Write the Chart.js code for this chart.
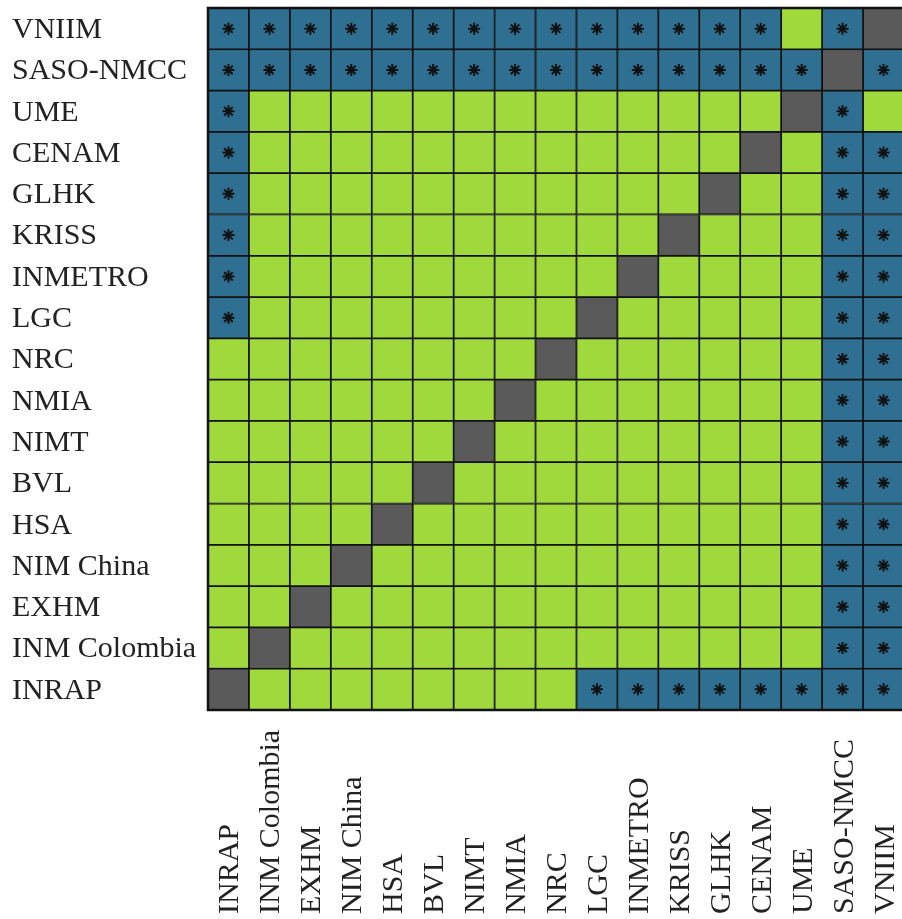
<!DOCTYPE html>
<html lang="en">
<head>
    <meta charset="UTF-8">
    <title>Significance matrix</title>
    <script src="https://cdn.jsdelivr.net/npm/chart.js"></script>
    <style>
        html, body { margin: 0; padding: 0; background: #fff; overflow: hidden; }
    </style>
</head>
<body>
    <canvas id="matrix" width="912" height="919"></canvas>

    <script>
        // Labels, top row first / left column first
        const rowLabels = ['VNIIM', 'SASO-NMCC', 'UME', 'CENAM', 'GLHK', 'KRISS', 'INMETRO', 'LGC',
            'NRC', 'NMIA', 'NIMT', 'BVL', 'HSA', 'NIM China', 'EXHM', 'INM Colombia', 'INRAP'];
        const colLabels = ['INRAP', 'INM Colombia', 'EXHM', 'NIM China', 'HSA', 'BVL', 'NIMT', 'NMIA',
            'NRC', 'LGC', 'INMETRO', 'KRISS', 'GLHK', 'CENAM', 'UME', 'SASO-NMCC', 'VNIIM'];

        // 1 = significant difference (*), 0 = not significant, 2 = same lab
        const significance = [
            [1, 1, 1, 1, 1, 1, 1, 1, 1, 1, 1, 1, 1, 1, 0, 1, 2], // VNIIM
            [1, 1, 1, 1, 1, 1, 1, 1, 1, 1, 1, 1, 1, 1, 1, 2, 1], // SASO-NMCC
            [1, 0, 0, 0, 0, 0, 0, 0, 0, 0, 0, 0, 0, 0, 2, 1, 0], // UME
            [1, 0, 0, 0, 0, 0, 0, 0, 0, 0, 0, 0, 0, 2, 0, 1, 1], // CENAM
            [1, 0, 0, 0, 0, 0, 0, 0, 0, 0, 0, 0, 2, 0, 0, 1, 1], // GLHK
            [1, 0, 0, 0, 0, 0, 0, 0, 0, 0, 0, 2, 0, 0, 0, 1, 1], // KRISS
            [1, 0, 0, 0, 0, 0, 0, 0, 0, 0, 2, 0, 0, 0, 0, 1, 1], // INMETRO
            [1, 0, 0, 0, 0, 0, 0, 0, 0, 2, 0, 0, 0, 0, 0, 1, 1], // LGC
            [0, 0, 0, 0, 0, 0, 0, 0, 2, 0, 0, 0, 0, 0, 0, 1, 1], // NRC
            [0, 0, 0, 0, 0, 0, 0, 2, 0, 0, 0, 0, 0, 0, 0, 1, 1], // NMIA
            [0, 0, 0, 0, 0, 0, 2, 0, 0, 0, 0, 0, 0, 0, 0, 1, 1], // NIMT
            [0, 0, 0, 0, 0, 2, 0, 0, 0, 0, 0, 0, 0, 0, 0, 1, 1], // BVL
            [0, 0, 0, 0, 2, 0, 0, 0, 0, 0, 0, 0, 0, 0, 0, 1, 1], // HSA
            [0, 0, 0, 2, 0, 0, 0, 0, 0, 0, 0, 0, 0, 0, 0, 1, 1], // NIM China
            [0, 0, 2, 0, 0, 0, 0, 0, 0, 0, 0, 0, 0, 0, 0, 1, 1], // EXHM
            [0, 2, 0, 0, 0, 0, 0, 0, 0, 0, 0, 0, 0, 0, 0, 1, 1], // INM Colombia
            [2, 0, 0, 0, 0, 0, 0, 0, 0, 1, 1, 1, 1, 1, 1, 1, 1]  // INRAP
        ];

        const cellColors = ['#9fd93b', '#2f6f91', '#5a5a5a'];
        const labelFont = { family: "'Liberation Serif', 'Times New Roman', serif", size: 30 };
        const textColor = '#222';
        const nRows = rowLabels.length;

        // one floating-bar dataset per row
        const rowSets = significance.map((row, r) => ({
            type: 'bar',
            order: 1,
            data: colLabels.map(() => [nRows - r - 1, nRows - r]),
            backgroundColor: row.map(v => cellColors[v]),
            borderColor: '#111',
            borderWidth: 1.2,
            borderSkipped: false,
            barPercentage: 1,
            categoryPercentage: 1
        }));

        // asterisks on significant cells
        const starPoints = [];
        significance.forEach((row, r) => {
            row.forEach((v, c) => {
                if (v === 1) starPoints.push({ x: colLabels[c], y: nRows - r - 0.5 });
            });
        });

        const frameAndLabels = {
            id: 'frameAndLabels',
            afterDraw(chart) {
                const ctx = chart.ctx;
                const area = chart.chartArea;
                ctx.save();
                ctx.strokeStyle = '#111';
                ctx.lineWidth = 2.5;
                ctx.strokeRect(area.left, area.top, area.right - area.left, area.bottom - area.top);

                // vertical column labels, starting at the bottom
                const xs = chart.scales.x;
                ctx.font = labelFont.size + 'px ' + labelFont.family;
                ctx.fillStyle = textColor;
                ctx.textAlign = 'left';
                ctx.textBaseline = 'alphabetic';
                colLabels.forEach((lab, i) => {
                    ctx.save();
                    ctx.translate(xs.getPixelForValue(i) + 10, 914);
                    ctx.rotate(-Math.PI / 2);
                    ctx.fillText(lab, 0, 0);
                    ctx.restore();
                });
                ctx.restore();
            }
        };

        new Chart(document.getElementById('matrix'), {
            data: {
                labels: colLabels,
                datasets: [
                    {
                        type: 'scatter',
                        order: 0,
                        data: starPoints,
                        pointStyle: 'star',
                        pointRadius: 6,
                        borderColor: '#111',
                        backgroundColor: '#111',
                        borderWidth: 2
                    },
                    ...rowSets
                ]
            },
            options: {
                responsive: false,
                animation: false,
                layout: { padding: { left: 12, top: 8, right: 2, bottom: 0 } },
                plugins: {
                    legend: { display: false },
                    tooltip: { enabled: false }
                },
                scales: {
                    x: {
                        type: 'category',
                        stacked: true,
                        offset: true,
                        grid: { display: false },
                        border: { display: false },
                        ticks: { display: false },
                        afterFit(scale) { scale.height = 209; }
                    },
                    y: {
                        type: 'linear',
                        min: 0,
                        max: nRows,
                        stacked: false,
                        grid: { display: false },
                        border: { display: false },
                        afterBuildTicks(scale) {
                            scale.ticks = rowLabels.map((_, i) => ({ value: nRows - i - 0.5 }));
                        },
                        afterFit(scale) {
                            scale.width = 196;
                            scale.paddingTop = 0;
                            scale.paddingBottom = 0;
                        },
                        ticks: {
                            crossAlign: 'far',
                            labelOffset: 1.5,
                            color: textColor,
                            font: labelFont,
                            callback: (value) => rowLabels[Math.round(nRows - 0.5 - value)]
                        }
                    }
                }
            },
            plugins: [frameAndLabels]
        });
    </script>
</body>
</html>
